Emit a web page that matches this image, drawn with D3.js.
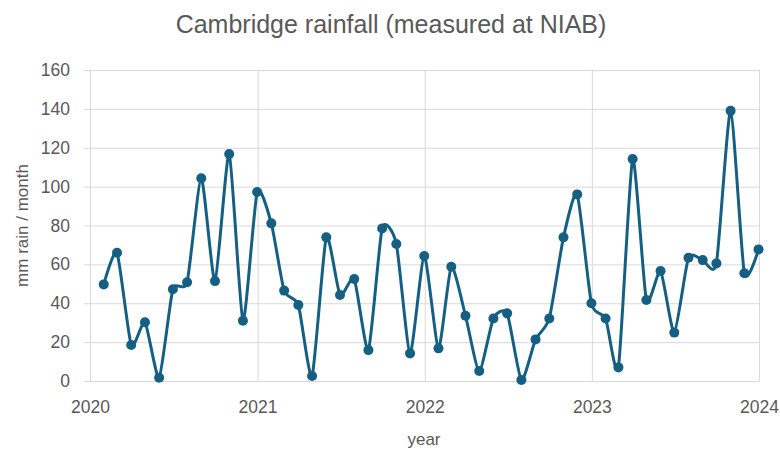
<!DOCTYPE html>
<html>
<head>
<meta charset="utf-8">
<script src="https://cdn.jsdelivr.net/npm/d3@7"></script>
<style>
	body { margin: 0; background: #fff; }
	svg { display: block; font-family: 'Liberation Sans', Arial, sans-serif; }
</style>
</head>
<body>
<script>
let years = [2020, 2021, 2022, 2023, 2024]
let yTicks = [0, 20, 40, 60, 80, 100, 120, 140, 160]

// mm of rain per month, Jan..Dec
let rain2020 = [49.7, 66.0, 18.5, 30.2, 1.7, 47.2, 50.8, 104.3, 51.4, 116.8, 31.0, 97.2]
let rain2021 = [81.1, 46.5, 39.1, 2.6, 73.9, 44.2, 52.5, 15.9, 78.5, 70.5, 14.2, 64.3]
let rain2022 = [16.8, 58.8, 33.6, 5.1, 32.2, 34.8, 0.5, 21.4, 32.2, 73.9, 96.0, 40.0]
let rain2023 = [32.2, 7.0, 114.2, 41.7, 56.6, 24.9, 63.4, 62.2, 60.5, 139.0, 55.4, 67.7]

let width = 780
let height = 453
let plotL = 90, plotR = 759, plotT = 70, plotB = 381
let grey = '#d9d9d9'
let textGrey = '#595959'
let blue = '#156082'

let points = []
let allYears = [rain2020, rain2021, rain2022, rain2023]
allYears.forEach((vals, yi) => {
	vals.forEach((v, m) => {
		// plotted at the last day of each month
		points.push({date: new Date(years[yi], m + 1, 0), value: v})
	})
})

let svg = d3.select('body').append('svg')
	.attr('width', width).attr('height', height)

let x = d3.scaleTime()
	.domain([new Date(years[0], 0, 1), new Date(years[years.length-1], 0, 1)])
	.range([plotL, plotR])
let y = d3.scaleLinear()
	.domain([0, 160])
	.range([plotB, plotT])

// horizontal gridlines + y ticks
let yAxis = svg.append('g')
	.attr('transform', `translate(${plotL},0)`)
	.call(d3.axisLeft(y).tickValues(yTicks).tickSize(6).tickPadding(14).tickFormat(d3.format('d')))
yAxis.select('.domain').remove()
yAxis.selectAll('line').attr('stroke', grey)
yAxis.selectAll('.tick').append('line')
	.attr('x1', 0).attr('x2', plotR - plotL)
	.attr('stroke', grey)
yAxis.selectAll('text')
	.attr('fill', textGrey).style('font-size', '17.5px')

// vertical gridlines + year labels
let xAxis = svg.append('g')
	.attr('transform', `translate(0,${plotB})`)
	.call(d3.axisBottom(x).tickValues(years.map(yr => new Date(yr, 0, 1))).tickSize(0).tickPadding(20).tickFormat(d3.timeFormat('%Y')))
xAxis.select('.domain').attr('stroke', grey)
xAxis.selectAll('.tick').append('line')
	.attr('y1', 0).attr('y2', plotT - plotB)
	.attr('stroke', grey)
xAxis.selectAll('text')
	.attr('fill', textGrey).style('font-size', '17.5px')

// title + axis titles
svg.append('text')
	.attr('x', 391).attr('y', 33)
	.attr('text-anchor', 'middle')
	.attr('fill', textGrey).style('font-size', '25px')
	.text('Cambridge rainfall (measured at NIAB)')

svg.append('text')
	.attr('x', 424).attr('y', 445)
	.attr('text-anchor', 'middle')
	.attr('fill', textGrey).style('font-size', '17px')
	.text('year')

svg.append('text')
	.attr('transform', `translate(28,${(plotT + plotB) / 2}) rotate(-90)`)
	.attr('text-anchor', 'middle')
	.attr('fill', textGrey).style('font-size', '17px')
	.text('mm rain / month')

// series
let line = d3.line()
	.x(d => x(d.date))
	.y(d => y(d.value))
	.curve(d3.curveCardinal.tension(0.4))

svg.append('path')
	.datum(points)
	.attr('d', line)
	.attr('fill', 'none')
	.attr('stroke', blue).attr('stroke-width', 3)
	.attr('stroke-linejoin', 'round')

svg.append('g').selectAll('circle')
	.data(points)
	.enter().append('circle')
	.attr('cx', d => x(d.date)).attr('cy', d => y(d.value))
	.attr('r', 5)
	.attr('fill', blue)
</script>
</body>
</html>
